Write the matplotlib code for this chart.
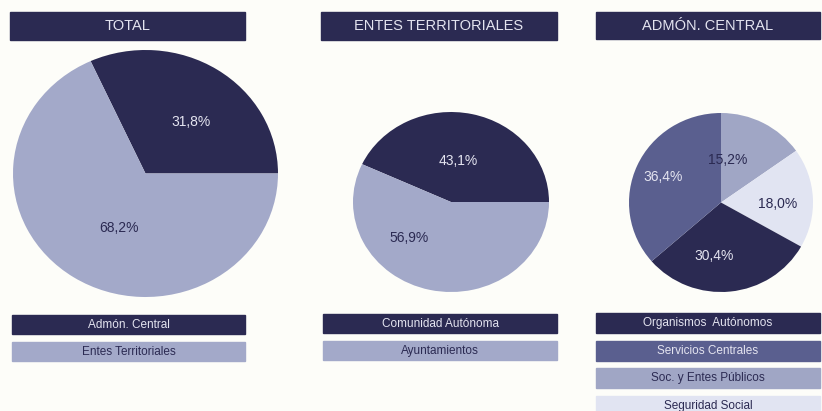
import matplotlib.pyplot as plt
from matplotlib.patches import Rectangle

plt.rcParams['font.family'] = ['Liberation Sans Narrow', 'Liberation Sans', 'DejaVu Sans']

W, H = 822, 411

# data
titles = ['TOTAL', 'ENTES TERRITORIALES', 'ADMÓN. CENTRAL']

total_names = ['Admón. Central', 'Entes Territoriales']
total_vals = [31.8, 68.2]

entes_names = ['Comunidad Autónoma', 'Ayuntamientos']
entes_vals = [43.1, 56.9]

# clockwise from the top of the pie
central_names = ['Soc. y Entes Públicos', 'Seguridad Social', 'Organismos  Autónomos', 'Servicios Centrales']
central_vals = [15.2, 18.0, 30.4, 36.4]
central_legend = ['Organismos  Autónomos', 'Servicios Centrales', 'Soc. y Entes Públicos', 'Seguridad Social']

navy = '#2b2a52'
light = '#a3a9c9'
serv = '#5a5f8f'
soc = '#a0a6c5'
seg = '#e1e4f2'
bg = '#fdfdf9'

colors = {
    'Admón. Central': navy, 'Entes Territoriales': light,
    'Comunidad Autónoma': navy, 'Ayuntamientos': light,
    'Organismos  Autónomos': navy, 'Servicios Centrales': serv,
    'Soc. y Entes Públicos': soc, 'Seguridad Social': seg,
}
dark_set = {navy, serv}

fig = plt.figure(figsize=(W / 100, H / 100), dpi=100, facecolor=bg)


def px_axes(x0, y0, x1, y1):
    return fig.add_axes([x0 / W, 1 - y1 / H, (x1 - x0) / W, (y1 - y0) / H])


def bar(x0, y0, x1, y1, color, text, size=8.5):
    fig.patches.append(Rectangle((x0 / W, 1 - y1 / H), (x1 - x0) / W, (y1 - y0) / H,
                                 transform=fig.transFigure, color=color, zorder=1))
    tc = '#e4e4f0' if color in dark_set else '#2b2a52'
    fig.text((x0 + x1) / 2 / W, 1 - (y0 + y1) / 2 / H, text, color=tc,
             ha='center', va='center', fontsize=size, zorder=2)


def draw_pie(box, names, vals, start, ccw, label_pos):
    ax = px_axes(*box)
    cols = [colors[n] for n in names]
    labs = [('%.1f%%' % v).replace('.', ',') for v in vals]
    wedges, texts = ax.pie(vals, colors=cols, startangle=start, counterclock=ccw,
                           labels=labs, labeldistance=0.5)
    for t, c, pos in zip(texts, cols, label_pos):
        t.set_position(pos)
        t.set_ha('center')
        t.set_va('center')
        t.set_fontsize(10)
        t.set_color('#e4e4f0' if c in dark_set else '#2b2a52')
    ax.set_aspect('auto')
    ax.set_xlim(-1, 1)
    ax.set_ylim(-1, 1)
    ax.axis('off')


# title bars
bar(10, 12, 245, 40, navy, titles[0], 10.5)
bar(321, 12, 557, 40, navy, titles[1], 10.5)
bar(596, 12, 820, 39, navy, titles[2], 10.5)

draw_pie((13, 50, 278, 297), total_names, total_vals, 0, True,
         [(0.34, 0.42), (-0.2, -0.44)])
draw_pie((353, 112, 549, 292), entes_names, entes_vals, 0, True,
         [(0.07, 0.46), (-0.43, -0.4)])
draw_pie((629, 113, 813, 292), central_names, central_vals, 90, False,
         [(0.07, 0.48), (0.62, -0.02), (-0.08, -0.6), (-0.63, 0.29)])

# legends
for i, n in enumerate(total_names):
    bar(12, 315 + 27 * i, 245, 334 + 27 * i, colors[n], n)
for i, n in enumerate(entes_names):
    bar(323, 314 + 27 * i, 557, 333 + 27 * i, colors[n], n)
for i, n in enumerate(central_legend):
    bar(596, 313 + 27.7 * i, 820, 333 + 27.7 * i, colors[n], n)

fig.savefig('out.png', dpi=100, facecolor=bg)
